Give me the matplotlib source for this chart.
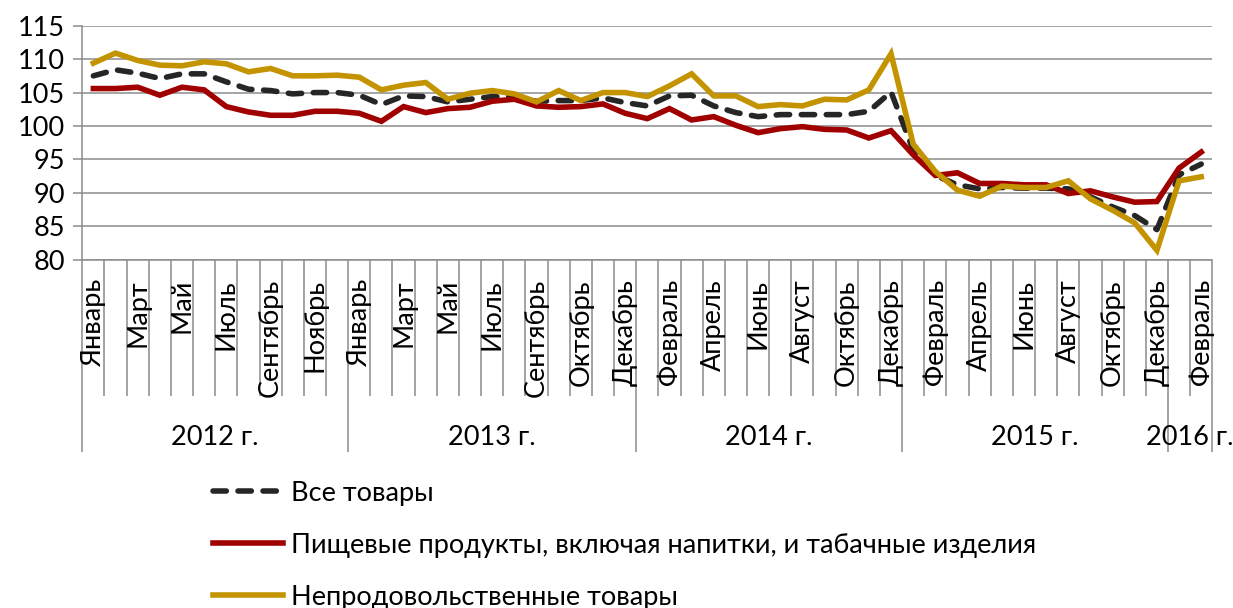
import numpy as np
import matplotlib
matplotlib.use("Agg")
import matplotlib.pyplot as plt
from matplotlib.lines import Line2D

plt.rcParams['font.family'] = ['Lato', 'DejaVu Sans']

# ---------------- data ----------------
months_2012 = ["Январь", "Февраль", "Март", "Апрель", "Май", "Июнь", "Июль",
               "Август", "Сентябрь", "Октябрь", "Ноябрь", "Декабрь"]
months_2013 = ["Январь", "Февраль", "Март", "Апрель", "Май", "Июнь", "Июль",
               "Август", "Сентябрь", "Сентябрь", "Октябрь", "Ноябрь", "Декабрь"]
months_2014 = ["Январь", "Февраль", "Март", "Апрель", "Май", "Июнь", "Июль",
               "Август", "Сентябрь", "Октябрь", "Ноябрь", "Декабрь"]
months_2015 = ["Январь", "Февраль", "Март", "Апрель", "Май", "Июнь", "Июль",
               "Август", "Сентябрь", "Октябрь", "Ноябрь", "Декабрь"]
months_2016 = ["Январь", "Февраль"]

years = ["2012 г.", "2013 г.", "2014 г.", "2015 г.", "2016 г."]
year_months = [months_2012, months_2013, months_2014, months_2015, months_2016]

all_goods = [107.5, 108.4, 107.9, 107.1, 107.8, 107.8, 106.6, 105.5, 105.3, 104.8,
             105.0, 105.0, 104.6, 103.2, 104.5, 104.4, 103.6, 104.0, 104.4, 104.3,
             103.7, 103.8, 103.8, 104.2, 103.5, 103.0, 104.5, 104.6, 103.0, 102.0,
             101.4, 101.7, 101.7, 101.7, 101.7, 102.2, 105.1, 96.4, 92.6, 91.2,
             90.6, 90.8, 90.7, 90.7, 90.6, 89.4, 87.9, 86.6, 84.5, 92.7, 94.3]

food = [105.6, 105.6, 105.8, 104.6, 105.8, 105.4, 102.9, 102.1, 101.6, 101.6,
        102.2, 102.2, 101.9, 100.7, 102.9, 102.0, 102.6, 102.8, 103.7, 104.0,
        103.0, 102.8, 102.9, 103.3, 101.9, 101.1, 102.6, 100.9, 101.4, 100.1,
        99.0, 99.6, 99.9, 99.5, 99.4, 98.2, 99.3, 95.7, 92.6, 93.0,
        91.4, 91.4, 91.2, 91.2, 89.9, 90.3, 89.4, 88.6, 88.7, 93.7, 96.1]

non_food = [109.4, 110.9, 109.8, 109.1, 109.0, 109.6, 109.3, 108.1, 108.6, 107.5,
            107.5, 107.6, 107.3, 105.4, 106.1, 106.5, 104.0, 104.9, 105.3, 104.8,
            103.6, 105.3, 103.8, 105.0, 105.0, 104.4, 106.0, 107.8, 104.5, 104.5,
            102.9, 103.2, 103.0, 104.0, 103.9, 105.4, 110.8, 97.3, 93.2, 90.4,
            89.5, 91.0, 90.8, 90.8, 91.8, 89.1, 87.4, 85.5, 81.4, 91.8, 92.4]

series_names = ["Все товары",
                "Пищевые продукты, включая напитки, и табачные изделия",
                "Непродовольственные товары"]

# ---------------- figure ----------------
W, H = 1233, 608
fig = plt.figure(figsize=(W / 100, H / 100), dpi=100)
ax_left, ax_right, ax_top, ax_bottom = 82.3, 1212.3, 25.7, 259.7
ax = fig.add_axes([ax_left / W, 1 - ax_bottom / H,
                   (ax_right - ax_left) / W, (ax_bottom - ax_top) / H])

labels = [m for ms in year_months for m in ms]
n = len(labels)
x = np.arange(n) + 0.5

GRID = '#8c8c8c'
C_ALL, C_FOOD, C_NON = '#262626', '#A00000', '#C39300'
LW = 4.0
DASH = (0, (2.4, 2.1))
FS = 19.5

ax.plot(x, all_goods, color=C_ALL, lw=LW, ls=DASH,
        dash_capstyle='round', zorder=3)
ax.plot(x, food, color=C_FOOD, lw=LW, solid_joinstyle='miter', zorder=4)
ax.plot(x, non_food, color=C_NON, lw=LW, solid_joinstyle='miter', zorder=5)

ax.set_xlim(0, n)
ax.set_ylim(80, 115)
ax.set_yticks(np.arange(80, 116, 5))
ax.grid(axis='y', color=GRID, lw=1.1)
ax.set_axisbelow(True)
for s in ['top', 'right']:
    ax.spines[s].set_visible(False)
for s in ['left', 'bottom']:
    ax.spines[s].set_color(GRID)
    ax.spines[s].set_linewidth(1.1)
ax.tick_params(axis='y', length=9 * 0.72, width=1.1, color=GRID,
               labelsize=FS, pad=6)

# category boundary ticks
sizes = [len(ms) for ms in year_months]
year_edges = np.concatenate([[0], np.cumsum(sizes)])
bounds = [b for b in range(n + 1) if b not in set(year_edges)]
ax.set_xticks(bounds)
ax.set_xticks(year_edges, minor=True)
ax.tick_params(axis='x', which='major', length=(396 - 259.7) * 0.72,
               width=1.1, color=GRID, labelbottom=False)
ax.tick_params(axis='x', which='minor', length=(452 - 259.7) * 0.72,
               width=1.1, color=GRID, labelbottom=False)

trans = ax.get_xaxis_transform()
hpx = ax_bottom - ax_top
for i, lab in enumerate(labels):
    if i % 2 == 0:
        ax.text(x[i], -(279 - ax_bottom) / hpx, lab, rotation=90,
                ha='center', va='top', fontsize=FS, transform=trans)

for k, yl in enumerate(years):
    cx = (year_edges[k] + year_edges[k + 1]) / 2
    ax.text(cx, -(437 - ax_bottom) / hpx, yl, ha='center', va='center',
            fontsize=FS, transform=trans)

# legend entries
handles = [Line2D([], [], color=C_ALL, lw=LW, ls=DASH, dash_capstyle='round'),
           Line2D([], [], color=C_FOOD, lw=LW),
           Line2D([], [], color=C_NON, lw=LW)]
rows_y = [493, 545, 597]
fs_px = FS * 100 / 72
for h, name, ry in zip(handles, series_names, rows_y):
    fig.legend([h], [name], loc='center left',
               bbox_to_anchor=(213 / W, 1 - ry / H), frameon=False,
               fontsize=FS, handlelength=70 / fs_px,
               handletextpad=8 / fs_px, borderpad=0, borderaxespad=0)

fig.savefig("out.png", dpi=100)
